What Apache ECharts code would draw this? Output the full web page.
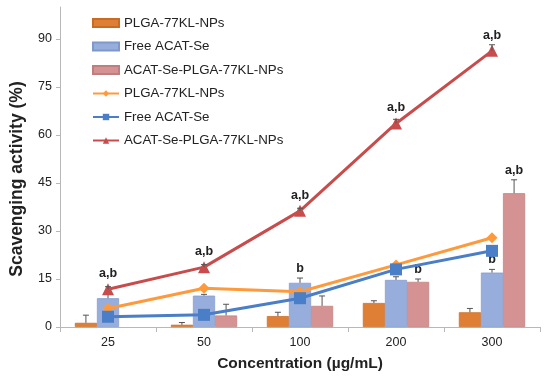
<!DOCTYPE html>
<html><head><meta charset="utf-8">
<script src="https://cdn.jsdelivr.net/npm/echarts@6/dist/echarts.min.js"></script>
<style>html,body{margin:0;padding:0;background:#fff}#c{width:550px;height:378px}</style>
</head><body><div id="c"></div>
<script>
var categories = ['25', '50', '100', '200', '300'];
var yTicks = [0, 15, 30, 45, 60, 75, 90];
var names = ['PLGA-77KL-NPs', 'Free ACAT-Se', 'ACAT-Se-PLGA-77KL-NPs'];

var barOrange = [1.3, 0.7, 3.4, 7.5, 4.6];
var barOrangeErr = [2.4, 0.7, 1.2, 0.7, 1.2];
var barBlue = [9.0, 9.8, 13.8, 14.7, 17.0];
var barBlueErr = [1.5, 0.4, 1.5, 1.0, 1.0];
var barPink = [0, 3.6, 6.6, 14.1, 41.8];
var barPinkErr = [0, 3.5, 3.1, 0.9, 4.2];

var lineOrange = [5.8, 12.1, 11.0, 19.4, 27.9];
var lineBlue = [3.2, 3.8, 9.0, 18.0, 23.8];
var lineRed = [11.8, 18.7, 36.3, 63.6, 86.3];
var lineRedErr = [0.8, 0.8, 0.8, 1.3, 1.9];

var redLabels = ['a,b', 'a,b', 'a,b', 'a,b', 'a,b'];
var blueBarLabels = ['', '', 'b', '', 'b'];
var pinkBarLabels = ['', '', '', 'b', 'a,b'];

var colBarOrange = '#DF7F35', colBarBlue = '#97AEDC', colBarPink = '#D49392';
var colLineOrange = '#FF9A3C', colLineBlue = '#4A7EC6', colLineRed = '#C94C4C';
var ZW = '\u200b';

var BAR_FRAC = 0.69;

function nz(arr) { return arr.map(function (v) { return v === 0 ? null : v; }); }

function errSeries(vals, errs, slot, labels, z) {
  var data = vals.map(function (v, i) { return [i, v, errs[i]]; });
  return {
    type: 'custom', z: z || 5, silent: true,
    data: data,
    encode: { x: 0, y: 1 },
    renderItem: function (params, api) {
      var i = api.value(0), v = api.value(1), e = api.value(2);
      var lab = labels ? labels[params.dataIndex] : '';
      var band = api.size([1, 0])[0];
      var bw = band * BAR_FRAC / 3;
      var off = slot === null ? 0 : (slot - 1) * bw;
      var p0 = api.coord([i, v]);
      var p1 = api.coord([i, v + e]);
      var x = p0[0] + off;
      var children = [];
      if (e > 0) {
        children.push({ type: 'line', shape: { x1: x, y1: p0[1], x2: x, y2: p1[1] }, style: { stroke: '#555', lineWidth: 1 } });
        children.push({ type: 'line', shape: { x1: x - 3, y1: p1[1], x2: x + 3, y2: p1[1] }, style: { stroke: '#555', lineWidth: 1 } });
      }
      if (lab) {
        var topY = Math.min(p1[1], slot === null ? p0[1] - 6 : p1[1]);
        children.push({ type: 'text', style: { text: lab, x: x, y: topY - 3, align: 'center', verticalAlign: 'bottom', fill: '#222', font: 'bold 12.5px "Liberation Sans", Arial, sans-serif' } });
      }
      return { type: 'group', children: children };
    }
  };
}

var chart = echarts.init(document.getElementById('c'), null, { renderer: 'canvas' });
var font = '"Liberation Sans", Arial, sans-serif';
chart.setOption({
  animation: false,
  backgroundColor: '#fff',
  grid: { left: 60, right: 10, top: 7, bottom: 51, containLabel: false },
  graphic: [{
    type: 'text', rotation: Math.PI / 2, x: 17, y: 179,
    style: { text: 'Scavenging activity (%)', align: 'center', verticalAlign: 'middle', fill: '#222',
      font: 'bold 17.5px "Liberation Sans", Arial, sans-serif' }
  }],
  legend: {
    orient: 'vertical', left: 87, top: 11, itemWidth: 26, itemHeight: 8, itemGap: 9.5,
    textStyle: { fontFamily: font, fontSize: 13.3, color: '#222', lineHeight: 14 },
    formatter: function (n) { return n.replace(ZW, ''); },
    data: [
      { name: names[0], icon: 'rect' }, { name: names[1], icon: 'rect' }, { name: names[2], icon: 'rect' },
      names[0] + ZW, names[1] + ZW, names[2] + ZW
    ]
  },
  xAxis: {
    type: 'category', data: categories,
    name: 'Concentration (µg/mL)', nameLocation: 'middle', nameGap: 29,
    nameTextStyle: { fontFamily: font, fontSize: 15.5, fontWeight: 'bold', color: '#222' },
    axisLine: { lineStyle: { color: '#B8B8B8', width: 1 } },
    axisTick: { show: true, length: 5, lineStyle: { color: '#B8B8B8' } },
    axisLabel: { fontFamily: font, fontSize: 12.5, color: '#222', margin: 9 }
  },
  yAxis: {
    type: 'value', min: 0, max: 100, interval: 15,
    axisLine: { show: true, lineStyle: { color: '#B8B8B8', width: 1 } },
    axisTick: { show: true, length: 4, lineStyle: { color: '#B8B8B8' }, customValues: yTicks },
    axisLabel: { fontFamily: font, fontSize: 12.5, color: '#222', margin: 8, customValues: yTicks },
    splitLine: { show: false }
  },
  series: [
    { name: names[0], type: 'bar', data: nz(barOrange), barGap: '0%', barCategoryGap: '31%', z: 2,
      itemStyle: { color: colBarOrange, borderColor: '#C86B25', borderWidth: 0.7 } },
    { name: names[1], type: 'bar', data: nz(barBlue), barGap: '0%', barCategoryGap: '31%', z: 2,
      itemStyle: { color: colBarBlue, borderColor: '#7F98CC', borderWidth: 0.7 } },
    { name: names[2], type: 'bar', data: nz(barPink), barGap: '0%', barCategoryGap: '31%', z: 2,
      itemStyle: { color: colBarPink, borderColor: '#BE7E7D', borderWidth: 0.7 } },
    { name: names[0] + ZW, type: 'line', data: lineOrange, symbol: 'diamond', symbolSize: 11, z: 6,
      lineStyle: { color: colLineOrange, width: 3 }, itemStyle: { color: colLineOrange } },
    { name: names[1] + ZW, type: 'line', data: lineBlue, symbol: 'rect', symbolSize: 12, z: 6,
      lineStyle: { color: colLineBlue, width: 3 }, itemStyle: { color: colLineBlue } },
    { name: names[2] + ZW, type: 'line', data: lineRed, symbol: 'triangle', symbolSize: 12, z: 6,
      lineStyle: { color: colLineRed, width: 3 }, itemStyle: { color: colLineRed } },
    errSeries(barOrange, barOrangeErr, 0, null, 4),
    errSeries(barBlue, barBlueErr, 1, blueBarLabels, 4),
    errSeries(barPink, barPinkErr, 2, pinkBarLabels, 4),
    errSeries(lineRed, lineRedErr, null, redLabels, 7)
  ]
});
</script></body></html>
